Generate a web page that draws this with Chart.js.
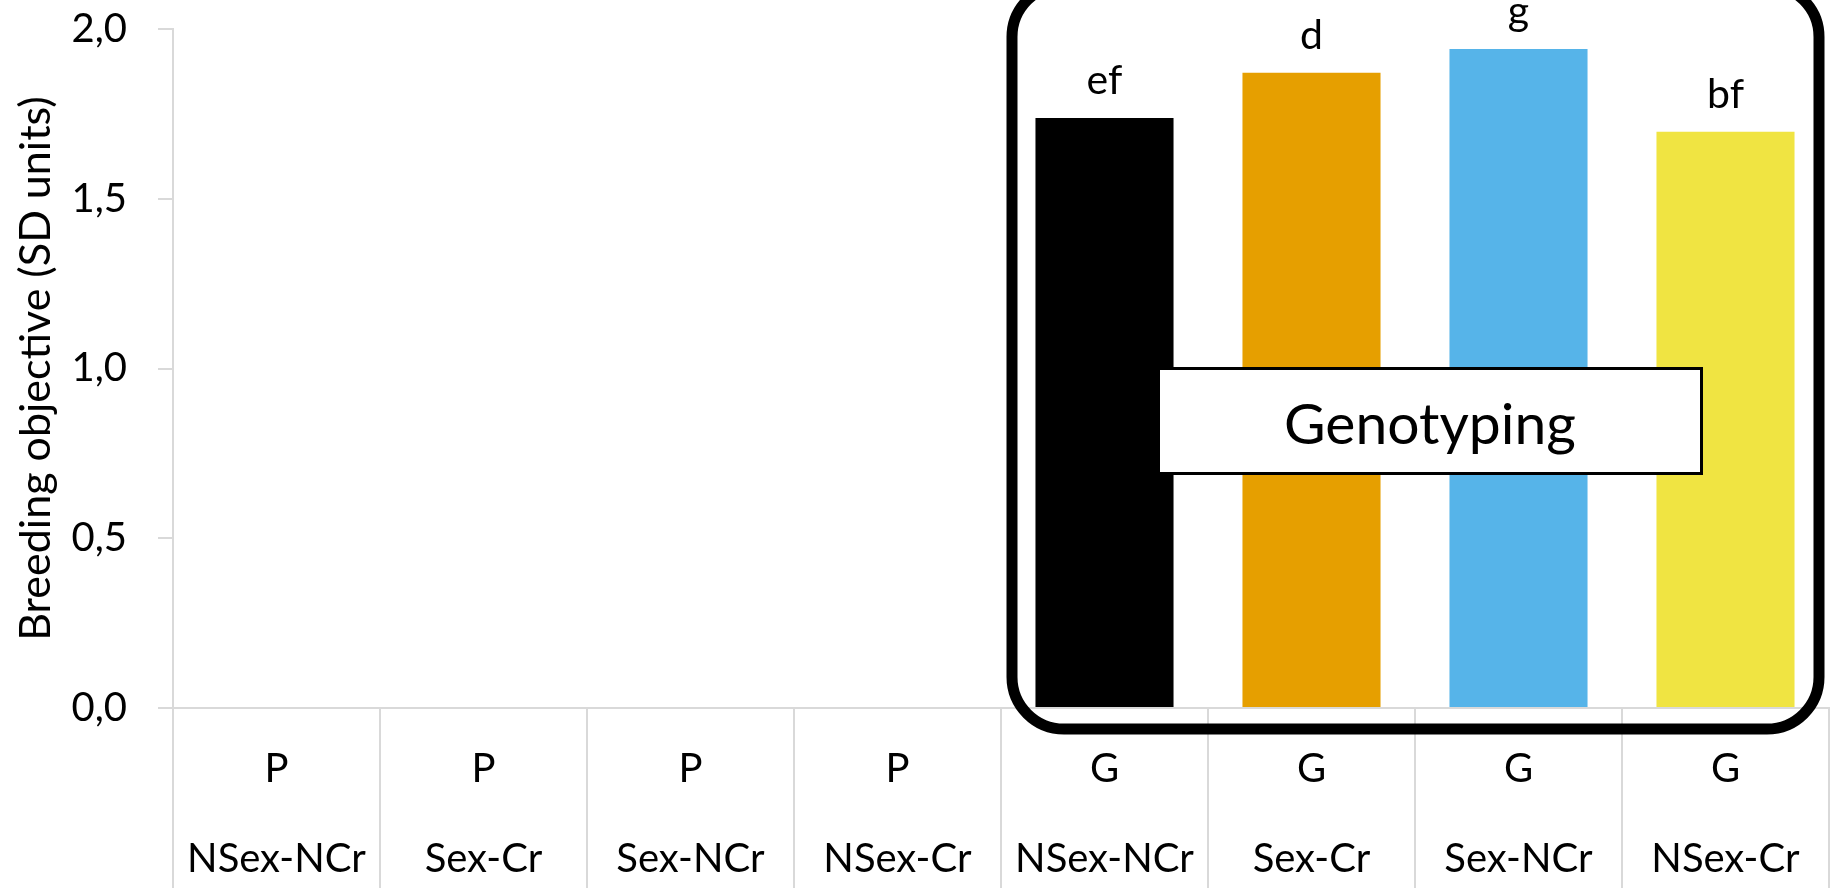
<!DOCTYPE html>
<html>
<head>
<meta charset="utf-8">
<script src="https://cdn.jsdelivr.net/npm/chart.js@4/dist/chart.umd.min.js"></script>
<style>
  html, body { margin: 0; padding: 0; background: #ffffff; }
  #wrap { width: 1831px; height: 888px; }
</style>
</head>
<body>
<div id="wrap"><canvas id="chart" width="1831" height="888"></canvas></div>
<script>
// Selection method (P = phenotyping, G = genotyping) and mating scenario per bar
const methods = ['P', 'P', 'P', 'P', 'G', 'G', 'G', 'G'];
const scenarios = ['NSex-NCr', 'Sex-Cr', 'Sex-NCr', 'NSex-Cr', 'NSex-NCr', 'Sex-Cr', 'Sex-NCr', 'NSex-Cr'];
// Breeding objective response, SD units
const breedingObjective = [0, 0, 0, 0, 1.738, 1.871, 1.941, 1.697];
// Significance letters written above the bars
const significanceLetters = ['', '', '', '', 'ef', 'd', 'g', 'bf'];
const barColors = ['#000000', '#E69F00', '#56B4E9', '#F0E442', '#000000', '#E69F00', '#56B4E9', '#F0E442'];
const yTickLabels = ['0,0', '0,5', '1,0', '1,5', '2,0'];
const yTitle = 'Breeding objective (SD units)';
const groupLabel = 'Genotyping';

const FONT = 'Lato, "Open Sans", sans-serif';
const AXIS_GREY = '#d9d9d9';

function roundedRectPath(ctx, x, y, w, h, r) {
  ctx.beginPath();
  ctx.moveTo(x + r, y);
  ctx.lineTo(x + w - r, y);
  ctx.arcTo(x + w, y, x + w, y + r, r);
  ctx.lineTo(x + w, y + h - r);
  ctx.arcTo(x + w, y + h, x + w - r, y + h, r);
  ctx.lineTo(x + r, y + h);
  ctx.arcTo(x, y + h, x, y + h - r, r);
  ctx.lineTo(x, y + r);
  ctx.arcTo(x, y, x + r, y, r);
  ctx.closePath();
}

// Letters above bars, frame around the genotyped group and its caption
const groupFrame = {
  id: 'groupFrame',
  afterDatasetsDraw(chart) {
    const { ctx, scales: { x, y } } = chart;
    const meta = chart.getDatasetMeta(0);
    const half = (x.getPixelForValue(1) - x.getPixelForValue(0)) / 2;
    ctx.save();

    ctx.fillStyle = '#000000';
    ctx.font = '41px ' + FONT;
    ctx.textAlign = 'center';
    ctx.textBaseline = 'alphabetic';
    meta.data.forEach((bar, i) => {
      if (significanceLetters[i]) ctx.fillText(significanceLetters[i], bar.x, bar.y - 24);
    });

    const left = x.getPixelForValue(4) - half + 11;
    const right = x.getPixelForValue(7) + half - 10;
    const top = -15;
    const bottom = y.getPixelForValue(0) + 21;
    ctx.lineWidth = 11;
    ctx.strokeStyle = '#000000';
    roundedRectPath(ctx, left, top, right - left, bottom - top, 52);
    ctx.stroke();

    const bx0 = x.getPixelForValue(4) + 54;
    const bx1 = x.getPixelForValue(7) - 24;
    const by0 = y.getPixelForValue(1.0);
    const by1 = by0 + 105;
    ctx.fillStyle = '#ffffff';
    ctx.fillRect(bx0, by0, bx1 - bx0, by1 - by0);
    ctx.lineWidth = 3;
    ctx.strokeStyle = '#000000';
    ctx.strokeRect(bx0, by0, bx1 - bx0, by1 - by0);
    ctx.fillStyle = '#000000';
    ctx.font = '57px ' + FONT;
    ctx.textAlign = 'center';
    ctx.textBaseline = 'alphabetic';
    ctx.fillText(groupLabel, (bx0 + bx1) / 2, by0 + 75);

    ctx.restore();
  }
};

new Chart(document.getElementById('chart'), {
  type: 'bar',
  data: {
    labels: methods.map((m, i) => [m, scenarios[i]]),
    datasets: [{
      data: breedingObjective,
      backgroundColor: barColors,
      borderWidth: 0,
      categoryPercentage: 1,
      barPercentage: 0.667
    }]
  },
  options: {
    responsive: false,
    animation: false,
    devicePixelRatio: 1,
    layout: { padding: { top: 29, right: 2, left: 0, bottom: 0 } },
    plugins: { legend: { display: false }, tooltip: { enabled: false } },
    scales: {
      x: {
        grid: {
          offset: true,
          drawOnChartArea: false,
          drawTicks: true,
          tickLength: 180,
          color: AXIS_GREY,
          lineWidth: 2
        },
        border: { display: true, color: AXIS_GREY, width: 2 },
        ticks: {
          color: '#000000',
          font: { family: FONT, size: 40, lineHeight: 2.25 },
          padding: -164,
          maxRotation: 0,
          autoSkip: false
        },
        afterFit(scale) { scale.height = 180; }
      },
      y: {
        min: 0,
        max: 2,
        grid: {
          drawOnChartArea: false,
          drawTicks: true,
          tickLength: 15,
          color: AXIS_GREY,
          lineWidth: 2
        },
        border: { display: true, color: AXIS_GREY, width: 2 },
        ticks: {
          stepSize: 0.5,
          color: '#000000',
          font: { family: FONT, size: 40 },
          padding: 31,
          callback: (value, index) => yTickLabels[index]
        },
        title: {
          display: true,
          text: yTitle,
          color: '#000000',
          font: { family: FONT, size: 43 },
          padding: { top: 10, bottom: 0 }
        },
        afterFit(scale) {
          scale.width = 173;
          scale.paddingTop = 0;
          scale.paddingBottom = 0;
        }
      }
    }
  },
  plugins: [groupFrame]
});
</script>
</body>
</html>
